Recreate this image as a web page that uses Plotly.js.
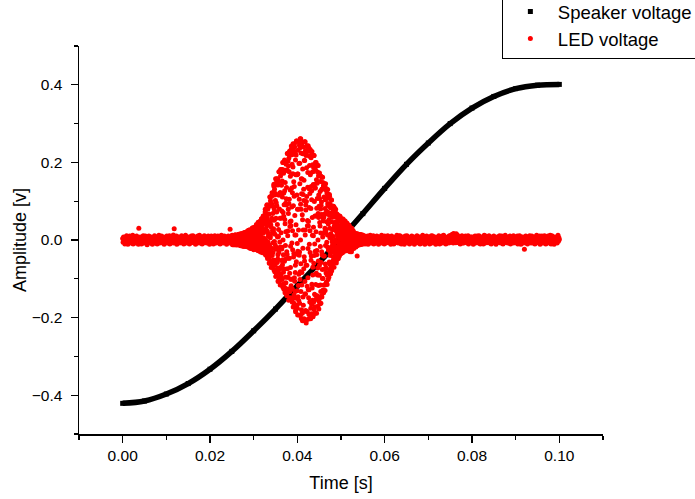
<!DOCTYPE html>
<html>
<head>
<meta charset="utf-8">
<script src="https://cdn.plot.ly/plotly-3.0.1.min.js"></script>
<style>
html,body{margin:0;padding:0;background:#fff;}
#chart{width:695px;height:499px;}
</style>
</head>
<body>
<div id="chart"></div>
<script>
const speakerT0 = 0;
const speakerDt = 0.005;
const speakerVoltage = [-0.421,-0.415,-0.397,-0.370,-0.333,-0.287,-0.234,-0.178,-0.118,-0.058,0.004,0.068,0.133,0.195,0.250,0.300,0.340,0.370,0.390,0.399,0.401];

// LED voltage, first quiet part: 0 .. 0.0249 s every 0.0001 s (estimated)
const ledQuiet1T0 = 0;
const ledQuiet1Dt = 0.0001;
const ledQuiet1 = [
.004,-.006,.008,-.001,.003,-.010,.007,.000,-.004,.011,
-.007,.003,-.011,.006,.001,-.003,.010,-.008,.004,-.001,
.007,-.004,.000,.012,-.010,.003,-.006,.008,-.003,.001,
-.008,.006,.010,-.001,-.007,.004,-.011,.030,.003,-.004,
.008,-.003,.001,-.010,.007,.004,-.006,.011,-.008,.000,
.003,-.007,.010,-.004,.006,-.001,-.012,.007,.001,-.006,
.010,-.003,.004,-.008,.000,.008,-.004,.003,-.011,.006,
-.001,.007,-.008,.011,-.003,.001,-.007,.006,.008,-.010,
.004,-.006,.003,.012,-.004,-.008,.007,.000,-.003,.010,
-.007,.001,.008,-.006,.004,-.011,.003,.007,-.001,.006,
-.004,.010,-.008,.003,.000,.007,-.006,.011,-.010,.001,
.006,-.003,.008,-.007,.004,-.001,.013,-.008,.029,.003,
-.006,.007,-.003,.010,-.011,.004,.001,-.007,.008,-.004,
.003,-.008,.006,.000,-.004,.011,-.007,.004,-.001,.008,
-.010,.004,.007,-.003,.012,-.006,.001,-.008,.006,-.001,
.008,-.004,.003,-.010,.006,.000,-.007,.010,-.003,.004,
-.006,.011,-.001,.007,-.008,.003,.004,-.011,.008,-.003,
.001,-.007,.010,-.004,.006,-.008,.012,-.001,.003,-.006,
.007,-.003,-.010,.004,.008,-.006,.000,.011,-.007,.003,
-.004,.008,.001,-.008,.006,-.003,.010,-.006,.004,-.011,
.006,.001,-.007,.010,-.004,.007,-.001,.003,-.010,.008,
-.003,.011,-.006,.004,-.008,.001,.007,-.004,.010,-.007,
.003,-.001,.008,-.010,.006,-.004,.012,.000,-.006,.007,
-.008,.004,.001,.010,-.007,.003,-.003,.008,-.011,.006,
.001,-.006,.010,-.003,.007,-.008,.028,.004,-.001,.008
];

// LED voltage, burst, channel A: 0.025 .. 0.05495 s every 0.00005 s (estimated)
const ledBurstAT0 = 0.025;
const ledBurstADt = 0.00005;
const ledBurstA = [
.011,-.005,.007,-.011,.002,.010,-.008,.001,-.012,.006,
.005,-.011,.010,-.003,.013,-.008,.001,.012,-.010,.004,
-.004,.012,-.011,.006,.013,-.007,.002,-.012,.009,-.001,
-.008,.003,.014,-.013,.008,-.001,.012,-.011,.002,.015,
.012,-.015,.006,.015,-.003,-.012,.009,.016,-.009,.001,
.017,-.006,-.016,.012,.003,-.013,.019,-.003,.009,-.011,
-.015,.014,-.003,.018,-.013,.006,.020,-.008,-.017,.008,
-.003,.018,-.010,.024,-.018,.008,-.006,.020,.014,-.017,
.026,-.008,.016,-.019,.005,.023,-.015,.003,-.021,.014,
.012,-.022,.025,-.006,.031,-.015,.002,.028,-.020,.009,
-.008,.031,-.021,.015,.033,-.014,.005,-.024,.024,-.003,
-.016,.008,.038,-.024,.022,-.001,.032,-.020,.004,.039,
.035,-.028,.016,.042,-.006,-.023,.025,.046,-.017,.002,
.049,-.011,-.031,.036,.008,-.025,.055,-.006,.025,-.022,
-.030,.042,-.005,.056,-.025,.019,.062,-.015,-.033,.026,
-.006,.060,-.020,.079,-.038,.028,-.012,.068,.048,-.035,
.089,-.019,.056,-.043,.019,.080,-.034,.009,-.047,.047,
.045,-.059,.090,-.016,.111,-.040,.006,.101,-.053,.034,
-.022,.112,-.061,.056,.122,-.040,.019,-.068,.087,-.007,
-.052,.029,.139,-.077,.080,-.004,.116,-.065,.015,.141,
.120,-.094,.056,.147,-.019,-.077,.088,.158,-.058,.008,
.157,-.038,-.107,.116,.027,-.086,.176,-.022,.080,-.076,
-.105,.122,-.018,.165,-.088,.056,.182,-.053,-.116,.075,
-.019,.152,-.064,.200,-.122,.071,-.038,.172,.121,-.113,
.201,-.055,.127,-.123,.042,.180,-.096,.021,-.134,.106,
.090,-.141,.180,-.037,.223,-.096,.011,.203,-.126,.068,
-.047,.211,-.133,.105,.229,-.086,.035,-.149,.164,-.016,
-.101,.049,.234,-.151,.134,-.008,.195,-.126,.024,.237,
.188,-.173,.088,.230,-.035,-.142,.138,.248,-.106,.013,
.227,-.065,-.185,.168,.039,-.150,.255,-.037,.116,-.131,
-.176,.170,-.029,.231,-.146,.079,.254,-.088,-.193,.105,
-.031,.198,-.102,.261,-.194,.092,-.061,.224,.158,-.180,
.248,-.084,.157,-.189,.052,.222,-.147,.026,-.206,.131,
.102,-.203,.205,-.054,.253,-.139,.013,.230,-.182,.077,
-.065,.223,-.184,.112,.243,-.119,.037,-.205,.174,-.022,
-.128,.048,.230,-.192,.132,-.011,.192,-.160,.024,.233,
.173,-.203,.081,.212,-.041,-.166,.127,.228,-.124,.012,
.194,-.070,-.198,.143,.033,-.160,.218,-.040,.099,-.140,
-.172,.134,-.029,.181,-.143,.062,.200,-.086,-.189,.082,
-.027,.146,-.090,.192,-.171,.068,-.054,.165,.116,-.158,
.169,-.066,.107,-.149,.036,.151,-.116,.018,-.163,.089,
.066,-.144,.131,-.038,.162,-.099,.008,.148,-.129,.049,
-.041,.133,-.116,.067,.145,-.075,.022,-.130,.104,-.014,
-.073,.027,.129,-.109,.074,-.006,.107,-.091,.013,.130,
.089,-.102,.041,.109,-.021,-.083,.065,.117,-.062,.006,
.092,-.031,-.087,.068,.016,-.070,.103,-.018,.047,-.062,
-.064,.059,-.011,.079,-.053,.027,.087,-.032,-.070,.036,
-.009,.060,-.030,.079,-.057,.028,-.018,.068,.048,-.053,
.066,-.020,.041,-.044,.014,.059,-.034,.007,-.048,.035,
.025,-.040,.050,-.011,.061,-.027,.003,.056,-.036,.019,
-.011,.050,-.030,.025,.054,-.019,.008,-.033,.039,-.004,
-.019,.010,.048,-.028,.028,-.002,.040,-.023,.005,.049,
.033,-.027,.015,.040,-.006,-.022,.024,.044,-.017,.002,
.033,-.010,-.028,.025,.006,-.022,.038,-.006,.017,-.020,
-.027,.021,-.005,.028,-.023,.010,.031,-.014,-.030,.013,
-.003,.018,-.011,.024,-.021,.008,-.007,.020,.014,-.019,
.018,-.007,.011,-.016,.004,.016,-.013,.002,-.018,.010,
.006,-.014,.013,-.004,-.041,-.010,.001,.014,-.013,.005,
-.004,.013,-.011,.006,.014,-.007,.002,-.012,.010,-.001,
-.007,.003,.012,-.011,.007,-.001,.010,-.009,.001,.013
];

// LED voltage, burst, channel B: 0.025025 .. 0.054975 s every 0.00005 s (estimated)
const ledBurstBT0 = 0.025025;
const ledBurstBDt = 0.00005;
const ledBurstB = [
-.007,.012,.003,-.012,.008,-.001,.005,-.010,.011,-.004,
.008,-.002,-.012,.010,-.006,.013,.001,-.008,.005,.011,
-.013,.005,.010,-.004,.012,-.011,.003,.007,-.006,.013,
.002,-.010,.015,-.008,.005,.014,-.013,.008,-.002,.011,
.016,-.013,-.004,.010,-.014,.007,-.008,.015,.004,-.011,
-.007,.015,-.016,.001,.016,-.005,.019,-.014,.012,-.001,
.006,-.017,.014,.020,-.010,.002,-.014,.016,-.003,.020,
-.015,.013,.022,-.008,.000,.024,-.012,.007,-.019,.011,
-.012,.026,.007,-.021,.019,-.002,.012,-.017,.025,-.007,
.019,-.005,-.022,.025,-.012,.031,.003,-.015,.011,.026,
-.025,.014,.026,-.008,.032,-.021,.007,.019,-.011,.033,
.006,-.019,.040,-.016,.014,.036,-.026,.020,-.004,.028,
.046,-.025,-.007,.028,-.027,.021,-.016,.044,.012,-.022,
-.014,.045,-.030,.003,.048,-.009,.055,-.028,.036,-.002,
.019,-.033,.042,.062,-.020,.006,-.026,.048,-.007,.060,
-.032,.044,.072,-.016,.000,.079,-.026,.024,-.040,.036,
-.026,.091,.024,-.048,.066,-.005,.042,-.038,.086,-.017,
.067,-.012,-.060,.090,-.031,.111,.011,-.040,.039,.095,
-.071,.050,.093,-.022,.115,-.061,.025,.068,-.032,.122,
.022,-.060,.144,-.052,.051,.131,-.082,.073,-.013,.102,
.158,-.082,-.024,.096,-.088,.072,-.053,.154,.040,-.072,
-.049,.142,-.105,.009,.151,-.032,.176,-.097,.116,-.005,
.056,-.116,.122,.182,-.070,.019,-.094,.141,-.023,.175,
-.102,.111,.182,-.051,.000,.200,-.083,.061,-.127,.091,
-.075,.206,.053,-.136,.148,-.014,.095,-.110,.195,-.048,
.135,-.030,-.144,.180,-.074,.223,.023,-.096,.079,.191,
-.155,.094,.176,-.047,.218,-.133,.047,.129,-.071,.229,
.037,-.118,.242,-.101,.085,.220,-.160,.122,-.025,.171,
.248,-.150,-.044,.150,-.163,.113,-.097,.240,.063,-.133,
-.084,.206,-.181,.013,.219,-.056,.255,-.168,.168,-.009,
.079,-.193,.170,.254,-.117,.026,-.156,.197,-.039,.244,
-.163,.145,.238,-.082,.000,.261,-.133,.079,-.202,.119,
-.116,.253,.065,-.208,.183,-.021,.117,-.168,.240,-.074,
.154,-.043,-.208,.205,-.107,.253,.026,-.139,.090,.218,
-.214,.099,.186,-.065,.231,-.184,.050,.136,-.097,.243,
.036,-.149,.238,-.128,.084,.216,-.202,.120,-.032,.168,
.228,-.176,-.052,.138,-.190,.104,-.114,.221,.058,-.155,
-.090,.176,-.194,.011,.187,-.060,.218,-.180,.143,-.010,
.062,-.189,.134,.200,-.115,.021,-.153,.155,-.038,.192,
-.144,.107,.175,-.072,.000,.192,-.117,.058,-.178,.087,
-.091,.173,.045,-.164,.125,-.017,.080,-.133,.164,-.058,
.098,-.030,-.147,.131,-.076,.162,.016,-.099,.057,.139,
-.136,.059,.111,-.041,.138,-.116,.030,.081,-.062,.145,
.020,-.085,.133,-.073,.047,.121,-.115,.067,-.018,.094,
.117,-.088,-.026,.071,-.096,.053,-.057,.113,.030,-.078,
-.040,.083,-.085,.005,.088,-.026,.103,-.079,.068,-.004,
.027,-.070,.059,.087,-.043,.009,-.057,.068,-.014,.084,
-.048,.044,.072,-.024,.000,.079,-.039,.024,-.059,.036,
-.027,.067,.017,-.049,.048,-.005,.031,-.039,.063,-.017,
.037,-.008,-.041,.050,-.021,.061,.006,-.027,.022,.053,
-.035,.022,.041,-.011,.051,-.030,.011,.030,-.016,.054,
.008,-.022,.050,-.019,.018,.045,-.029,.025,-.005,.035,
.044,-.024,-.007,.026,-.026,.020,-.015,.042,.011,-.021,
-.013,.030,-.027,.002,.032,-.008,.038,-.025,.025,-.001,
.010,-.030,.021,.031,-.018,.003,-.024,.024,-.006,.030,
-.018,.013,.022,-.009,.000,.024,-.014,.007,-.022,.011,
-.010,.018,.005,-.018,.013,-.002,.009,-.014,.017,-.006,
.010,-.003,-.015,.013,-.008,.016,.002,-.010,.006,.014,
-.013,.006,.011,-.004,.013,-.011,.003,.008,-.006,.014,
.002,-.008,.013,-.007,.005,.012,-.011,.007,-.002,.009
];

// LED voltage, second quiet part: 0.055 .. 0.1 s every 0.0001 s (estimated)
const ledQuiet2T0 = 0.055;
const ledQuiet2Dt = 0.0001;
const ledQuiet2 = [
.007,-.008,.004,.011,-.003,-.010,.006,.001,-.007,.008,
-.004,.010,-.011,.003,.007,-.006,.000,.012,-.008,.004,
.001,-.007,.008,-.003,.011,-.010,.004,-.001,.006,-.006,
-.008,.003,.010,-.004,.001,.007,-.011,.008,-.003,.000,
.006,-.001,-.008,.012,-.006,.004,.008,-.007,.003,-.010,
.010,-.004,.001,-.008,.007,.000,-.006,.011,-.003,.004,
-.007,.008,-.001,.006,-.011,.003,.010,-.004,.007,-.008,
.003,-.010,.007,.000,.004,-.006,.008,-.003,.012,-.007,
-.001,.006,-.008,.010,-.004,.011,-.007,.001,-.010,.006,
.008,-.003,.004,-.007,.003,-.011,.007,.010,-.006,.000,
-.006,.011,-.003,.001,.008,-.008,.004,-.010,.006,.003,
.004,-.007,.010,-.006,.000,.007,-.004,.008,-.011,.001,
-.008,.003,.006,-.001,.011,-.007,.003,-.006,.008,-.004,
.007,-.010,.001,.008,-.003,.004,-.008,.012,-.001,-.006,
-.003,.006,-.011,.004,.007,-.004,.010,-.007,.003,.008,
.000,-.006,.008,-.010,.004,.001,-.003,.011,-.008,.006,
.010,-.001,-.007,.003,-.006,.008,.006,-.011,.004,-.003,
-.004,.007,.003,-.008,.011,-.003,-.010,.004,.007,-.001,
.006,-.008,.010,.000,-.007,.012,-.004,.003,-.006,.008,
-.010,.004,-.003,.007,.001,-.006,.008,-.008,.011,-.004,
.003,.010,-.006,.013,-.004,.015,.007,-.008,.017,.004,
.014,-.003,.011,-.007,.016,.006,-.001,.012,-.006,.008,
-.007,.006,.001,-.010,.008,-.003,.004,.011,-.008,.003,
.004,-.008,.007,-.001,-.006,.010,-.004,.000,.008,-.007,
-.003,.011,-.010,.006,.003,-.007,.008,-.004,.001,.007,
.008,-.006,.003,-.011,.007,.000,-.003,.010,-.008,.004,
-.006,.001,.010,-.004,.006,-.008,.011,-.001,.003,-.010,
.007,-.004,-.007,.008,-.001,.004,-.010,.006,.012,-.003,
-.008,.010,.003,-.006,.008,-.003,.001,-.007,.004,.011,
.001,-.007,.006,.004,-.010,.007,-.004,.008,-.001,-.006,
.010,-.003,-.008,.006,.001,-.011,.007,.003,-.004,.008,
-.001,.008,-.006,.011,-.007,.004,.000,-.008,.010,-.003,
.006,-.010,.004,-.003,.008,-.006,.012,-.004,.001,.007,
-.007,.003,.008,-.008,.004,.000,-.006,.010,-.010,.003,
.004,-.004,.007,.001,-.008,.011,-.003,.006,-.007,-.001,
.008,-.007,.003,-.004,.010,-.010,.006,.001,-.006,.011,
-.003,.007,-.011,.004,.000,.008,-.004,.007,-.008,.003,
-.024,.006,-.001,.010,-.007,.003,.008,-.010,.004,-.004,
.007,-.006,.011,-.003,.001,-.008,.006,.010,-.004,.000,
-.008,.004,-.003,.008,-.010,.007,.003,-.006,.012,-.001,
.003,-.007,.008,.000,-.004,.010,-.011,.006,.001,-.006,
.010,-.001,-.008,.007,.004,-.007,.011,-.003,.006,-.010,
-.004,.008,.001,-.006,.010,-.003,.007,-.008,.003,.012,
.006,-.010,.004,.011,-.007,.001,-.004,.008,-.011,.007,
-.001,.007,-.006,.003,.008,-.008,.004,.012,-.003,.006,
.001
];

const seriesNames = ['Speaker voltage', 'LED voltage'];
const xTitle = 'Time [s]';
const yTitle = 'Amplitude [v]';

const FONT = 'Liberation Sans, Arial, sans-serif';
const RED = '#ff0000';
const ledMarker = {color: RED, size: 5, line: {width: 0}};

function ledTrace(t0, dt, values, showInLegend) {
  return {
    type: 'scatter', mode: 'markers', name: seriesNames[1],
    x0: t0, dx: dt, y: values,
    marker: ledMarker, legendgroup: 'led', showlegend: showInLegend
  };
}

const traces = [
  {
    type: 'scatter', mode: 'lines',
    x0: speakerT0, dx: speakerDt, y: speakerVoltage,
    line: {color: '#000000', width: 5.5, shape: 'spline', smoothing: 1},
    showlegend: false, hoverinfo: 'skip', legendgroup: 'spk'
  },
  {
    type: 'scatter', mode: 'markers', name: seriesNames[0],
    x0: speakerT0, dx: speakerDt, y: speakerVoltage,
    marker: {color: '#000000', size: 5, symbol: 'square'},
    legendgroup: 'spk'
  },
  ledTrace(ledQuiet1T0, ledQuiet1Dt, ledQuiet1, true),
  ledTrace(ledBurstAT0, ledBurstADt, ledBurstA, false),
  ledTrace(ledBurstBT0, ledBurstBDt, ledBurstB, false),
  ledTrace(ledQuiet2T0, ledQuiet2Dt, ledQuiet2, false)
];

const axisCommon = {
  showgrid: false, zeroline: false,
  showline: true, linecolor: '#000', linewidth: 1.5,
  ticks: 'outside', ticklen: 7, tickwidth: 1.2, tickcolor: '#000',
  tickfont: {family: FONT, size: 15.5, color: '#000'},
  mirror: false
};

const layout = {
  width: 695, height: 499,
  paper_bgcolor: '#fff', plot_bgcolor: '#fff',
  margin: {l: 79, r: 92, t: 46, b: 65, autoexpand: false},
  font: {family: FONT, color: '#000'},
  showlegend: true,
  legend: {
    x: 0.807, xanchor: 'left', y: 1.1392, yanchor: 'top',
    bgcolor: '#fff', bordercolor: '#000', borderwidth: 1,
    font: {family: FONT, size: 18.5, color: '#000'},
    itemwidth: 45, tracegroupgap: 0
  },
  xaxis: Object.assign({}, axisCommon, {
    range: [-0.01, 0.11], tick0: 0, dtick: 0.02, tickformat: '.2f',
    minor: {dtick: 0.01, ticks: 'outside', ticklen: 4, tickwidth: 1.2, tickcolor: '#000', showgrid: false},
    title: {text: xTitle, font: {family: FONT, size: 18, color: '#000'}, standoff: 13}
  }),
  yaxis: Object.assign({}, axisCommon, {
    range: [-0.5, 0.5], tick0: 0, dtick: 0.2, tickformat: '.1f',
    ticklabelstandoff: 5,
    minor: {dtick: 0.1, ticks: 'outside', ticklen: 4, tickwidth: 1.2, tickcolor: '#000', showgrid: false},
    title: {text: yTitle, font: {family: FONT, size: 18, color: '#000'}, standoff: 0}
  })
};

Plotly.newPlot('chart', traces, layout, {displayModeBar: false, staticPlot: true});
</script>
</body>
</html>
